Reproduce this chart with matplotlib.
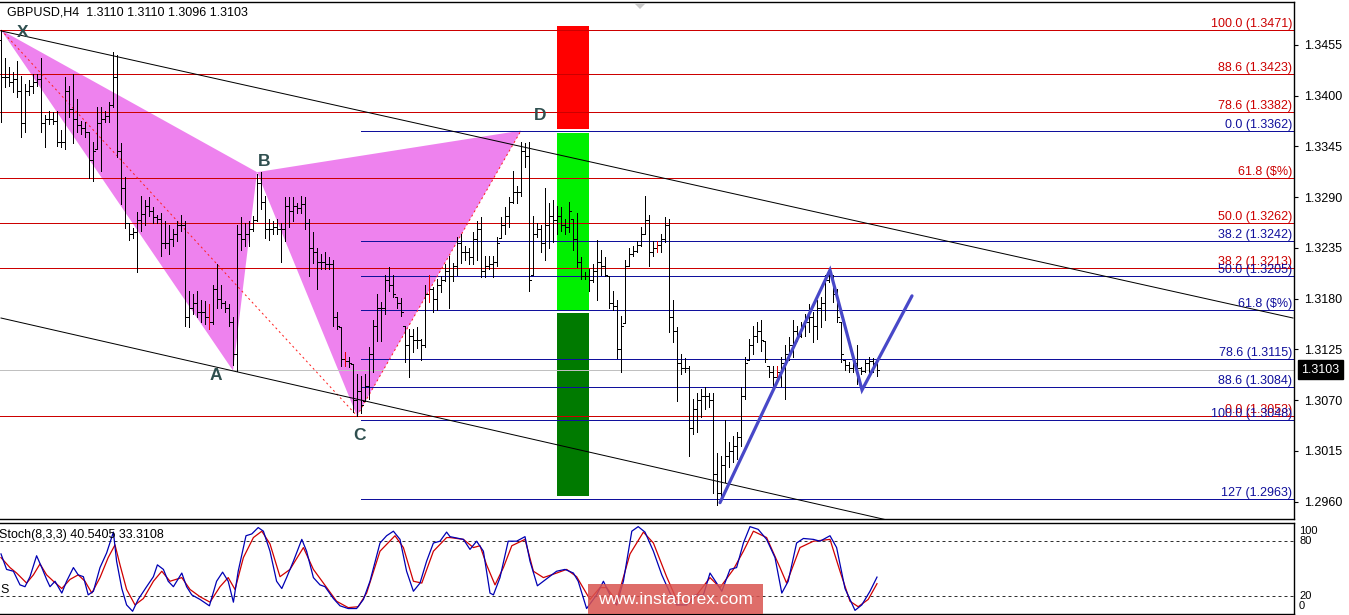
import numpy as np
import matplotlib
matplotlib.use("Agg")
import matplotlib.pyplot as plt
from matplotlib.patches import Polygon, Rectangle
from matplotlib import transforms

plt.rcParams['font.family'] = ['Liberation Sans', 'DejaVu Sans']

# ---------------- GBPUSD H4 bars ----------------
highs = [
    1.3471, 1.3441, 1.3431, 1.3425, 1.3437, 1.3421, 1.3412, 1.3417, 1.3423, 1.3423,
    1.3441, 1.3379, 1.3383, 1.3382, 1.3383, 1.3363, 1.3420, 1.3410, 1.3423, 1.3396,
    1.3372, 1.3371, 1.3361, 1.3350, 1.3388, 1.3388, 1.3383, 1.3393, 1.3447, 1.3444,
    1.3349, 1.3312, 1.3262, 1.3257, 1.3274, 1.3291, 1.3287, 1.3290, 1.3279, 1.3271,
    1.3273, 1.3264, 1.3260, 1.3255, 1.3264, 1.3271, 1.3264, 1.3188, 1.3185, 1.3188,
    1.3179, 1.3177, 1.3174, 1.3195, 1.3217, 1.3195, 1.3177, 1.3174, 1.3160, 1.3260,
    1.3268, 1.3262, 1.3264, 1.3269, 1.3315, 1.3317, 1.3291, 1.3266, 1.3264, 1.3266,
    1.3262, 1.3290, 1.3290, 1.3290, 1.3284, 1.3291, 1.3290, 1.3266, 1.3252, 1.3235,
    1.3228, 1.3230, 1.3225, 1.3222, 1.3166, 1.3149, 1.3122, 1.3117, 1.3109, 1.3098,
    1.3096, 1.3098, 1.3128, 1.3157, 1.3185, 1.3176, 1.3206, 1.3214, 1.3206, 1.3182,
    1.3181, 1.3150, 1.3147, 1.3147, 1.3149, 1.3136, 1.3195, 1.3206, 1.3193, 1.3201,
    1.3204, 1.3217, 1.3226, 1.3219, 1.3247, 1.3250, 1.3237, 1.3235, 1.3252, 1.3264,
    1.3268, 1.3226, 1.3226, 1.3226, 1.3247, 1.3268, 1.3279, 1.3290, 1.3318, 1.3302,
    1.3350, 1.3349, 1.3350, 1.3269, 1.3262, 1.3260, 1.3300, 1.3284, 1.3287, 1.3280,
    1.3279, 1.3266, 1.3285, 1.3266, 1.3273, 1.3225, 1.3209, 1.3212, 1.3217, 1.3244,
    1.3233, 1.3225, 1.3204, 1.3188, 1.3179, 1.3161, 1.3222, 1.3235, 1.3237, 1.3242,
    1.3258, 1.3291, 1.3271, 1.3242, 1.3242, 1.3250, 1.3268, 1.3266, 1.3179, 1.3149,
    1.3120, 1.3116, 1.3107, 1.3071, 1.3078, 1.3082, 1.3084, 1.3078, 1.3078, 1.3013,
    1.3009, 1.3049, 1.3025, 1.3031, 1.3036, 1.3084, 1.3117, 1.3136, 1.3150, 1.3155,
    1.3157, 1.3134, 1.3107, 1.3107, 1.3107, 1.3117, 1.3130, 1.3138, 1.3157, 1.3150,
    1.3155, 1.3163, 1.3174, 1.3165, 1.3179, 1.3182, 1.3206, 1.3211, 1.3206, 1.3190,
    1.3155, 1.3114, 1.3111, 1.3114, 1.3130, 1.3106, 1.3114, 1.3117, 1.3116, 1.3110,
]
lows = [
    1.3371, 1.3409, 1.3410, 1.3404, 1.3398, 1.3355, 1.3360, 1.3401, 1.3403, 1.3410,
    1.3361, 1.3344, 1.3369, 1.3369, 1.3345, 1.3344, 1.3342, 1.3377, 1.3349, 1.3360,
    1.3358, 1.3355, 1.3311, 1.3307, 1.3342, 1.3318, 1.3371, 1.3371, 1.3388, 1.3333,
    1.3282, 1.3257, 1.3244, 1.3246, 1.3209, 1.3253, 1.3260, 1.3269, 1.3262, 1.3262,
    1.3226, 1.3235, 1.3228, 1.3237, 1.3242, 1.3253, 1.3150, 1.3149, 1.3163, 1.3160,
    1.3155, 1.3152, 1.3147, 1.3152, 1.3170, 1.3170, 1.3166, 1.3150, 1.3108, 1.3102,
    1.3233, 1.3237, 1.3237, 1.3253, 1.3264, 1.3277, 1.3246, 1.3244, 1.3250, 1.3250,
    1.3220, 1.3242, 1.3258, 1.3264, 1.3273, 1.3273, 1.3255, 1.3204, 1.3219, 1.3190,
    1.3212, 1.3212, 1.3212, 1.3150, 1.3147, 1.3107, 1.3107, 1.3106, 1.3057, 1.3053,
    1.3056, 1.3069, 1.3071, 1.3100, 1.3134, 1.3134, 1.3163, 1.3188, 1.3182, 1.3170,
    1.3161, 1.3111, 1.3095, 1.3122, 1.3127, 1.3114, 1.3128, 1.3176, 1.3165, 1.3168,
    1.3187, 1.3199, 1.3170, 1.3199, 1.3206, 1.3219, 1.3222, 1.3217, 1.3217, 1.3222,
    1.3203, 1.3203, 1.3212, 1.3203, 1.3215, 1.3246, 1.3250, 1.3258, 1.3284, 1.3284,
    1.3291, 1.3323, 1.3188, 1.3206, 1.3247, 1.3231, 1.3222, 1.3235, 1.3241, 1.3250,
    1.3253, 1.3250, 1.3252, 1.3233, 1.3214, 1.3201, 1.3201, 1.3188, 1.3198, 1.3179,
    1.3206, 1.3204, 1.3170, 1.3168, 1.3116, 1.3101, 1.3154, 1.3215, 1.3226, 1.3231,
    1.3237, 1.3250, 1.3215, 1.3226, 1.3230, 1.3230, 1.3241, 1.3144, 1.3133, 1.3069,
    1.3098, 1.3101, 1.3009, 1.3033, 1.3035, 1.3052, 1.3060, 1.3063, 1.2970, 1.2957,
    1.2962, 1.2981, 1.2998, 1.3003, 1.3006, 1.3020, 1.3071, 1.3114, 1.3120, 1.3133,
    1.3123, 1.3111, 1.3095, 1.3082, 1.3090, 1.3085, 1.3071, 1.3114, 1.3117, 1.3134,
    1.3138, 1.3139, 1.3144, 1.3133, 1.3136, 1.3149, 1.3157, 1.3198, 1.3176, 1.3155,
    1.3111, 1.3103, 1.3100, 1.3100, 1.3087, 1.3098, 1.3100, 1.3098, 1.3100, 1.3096,
]
opens = [
    1.3460, 1.3420, 1.3420, 1.3415, 1.3418, 1.3405, 1.3370, 1.3405, 1.3410, 1.3415,
    1.3418, 1.3370, 1.3375, 1.3375, 1.3372, 1.3350, 1.3350, 1.3405, 1.3385, 1.3375,
    1.3368, 1.3365, 1.3360, 1.3330, 1.3342, 1.3370, 1.3375, 1.3378, 1.3390, 1.3420,
    1.3340, 1.3300, 1.3262, 1.3250, 1.3252, 1.3265, 1.3272, 1.3280, 1.3275, 1.3268,
    1.3266, 1.3240, 1.3240, 1.3245, 1.3250, 1.3260, 1.3260, 1.3160, 1.3170, 1.3175,
    1.3165, 1.3165, 1.3160, 1.3155, 1.3190, 1.3180, 1.3175, 1.3170, 1.3155, 1.3120,
    1.3250, 1.3245, 1.3250, 1.3255, 1.3265, 1.3305, 1.3285, 1.3255, 1.3255, 1.3258,
    1.3255, 1.3255, 1.3280, 1.3275, 1.3280, 1.3278, 1.3282, 1.3262, 1.3235, 1.3230,
    1.3220, 1.3220, 1.3218, 1.3218, 1.3160, 1.3149, 1.3115, 1.3112, 1.3109, 1.3070,
    1.3080, 1.3069, 1.3085, 1.3120, 1.3150, 1.3170, 1.3170, 1.3200, 1.3195, 1.3182,
    1.3175, 1.3150, 1.3130, 1.3140, 1.3135, 1.3135, 1.3130, 1.3185, 1.3190, 1.3180,
    1.3195, 1.3200, 1.3210, 1.3205, 1.3215, 1.3240, 1.3230, 1.3230, 1.3225, 1.3245,
    1.3255, 1.3210, 1.3215, 1.3218, 1.3220, 1.3246, 1.3260, 1.3270, 1.3285, 1.3295,
    1.3295, 1.3340, 1.3335, 1.3206, 1.3250, 1.3255, 1.3240, 1.3260, 1.3270, 1.3265,
    1.3270, 1.3260, 1.3258, 1.3266, 1.3245, 1.3220, 1.3205, 1.3205, 1.3200, 1.3210,
    1.3220, 1.3215, 1.3204, 1.3175, 1.3172, 1.3125, 1.3154, 1.3215, 1.3228, 1.3232,
    1.3238, 1.3250, 1.3265, 1.3230, 1.3235, 1.3238, 1.3245, 1.3260, 1.3160, 1.3145,
    1.3110, 1.3105, 1.3105, 1.3040, 1.3060, 1.3070, 1.3075, 1.3075, 1.3070, 1.2990,
    1.2970, 1.3000, 1.3010, 1.3015, 1.3020, 1.3030, 1.3075, 1.3114, 1.3130, 1.3140,
    1.3145, 1.3134, 1.3107, 1.3100, 1.3095, 1.3100, 1.3110, 1.3120, 1.3130, 1.3145,
    1.3140, 1.3150, 1.3155, 1.3160, 1.3150, 1.3170, 1.3175, 1.3200, 1.3205, 1.3185,
    1.3155, 1.3114, 1.3108, 1.3105, 1.3110, 1.3105, 1.3102, 1.3110, 1.3112, 1.3110,
]
closes = [
    1.3420, 1.3420, 1.3415, 1.3418, 1.3405, 1.3370, 1.3405, 1.3410, 1.3415, 1.3418,
    1.3370, 1.3375, 1.3375, 1.3372, 1.3350, 1.3350, 1.3405, 1.3385, 1.3375, 1.3368,
    1.3365, 1.3360, 1.3330, 1.3340, 1.3370, 1.3375, 1.3378, 1.3390, 1.3420, 1.3340,
    1.3300, 1.3262, 1.3250, 1.3252, 1.3265, 1.3272, 1.3280, 1.3275, 1.3268, 1.3266,
    1.3240, 1.3240, 1.3245, 1.3250, 1.3260, 1.3260, 1.3160, 1.3170, 1.3175, 1.3165,
    1.3165, 1.3160, 1.3155, 1.3190, 1.3180, 1.3175, 1.3170, 1.3155, 1.3120, 1.3250,
    1.3245, 1.3250, 1.3255, 1.3265, 1.3305, 1.3285, 1.3255, 1.3255, 1.3258, 1.3255,
    1.3255, 1.3280, 1.3275, 1.3280, 1.3278, 1.3282, 1.3262, 1.3235, 1.3230, 1.3220,
    1.3220, 1.3218, 1.3218, 1.3160, 1.3150, 1.3115, 1.3112, 1.3110, 1.3070, 1.3080,
    1.3065, 1.3085, 1.3120, 1.3150, 1.3170, 1.3170, 1.3200, 1.3195, 1.3185, 1.3175,
    1.3165, 1.3130, 1.3140, 1.3135, 1.3135, 1.3130, 1.3185, 1.3190, 1.3180, 1.3195,
    1.3200, 1.3210, 1.3205, 1.3215, 1.3240, 1.3230, 1.3230, 1.3225, 1.3245, 1.3255,
    1.3210, 1.3215, 1.3218, 1.3220, 1.3240, 1.3260, 1.3270, 1.3285, 1.3295, 1.3295,
    1.3340, 1.3335, 1.3200, 1.3250, 1.3255, 1.3240, 1.3260, 1.3270, 1.3265, 1.3270,
    1.3260, 1.3258, 1.3275, 1.3245, 1.3220, 1.3205, 1.3205, 1.3200, 1.3210, 1.3220,
    1.3215, 1.3206, 1.3175, 1.3172, 1.3125, 1.3150, 1.3215, 1.3228, 1.3232, 1.3238,
    1.3250, 1.3265, 1.3230, 1.3235, 1.3238, 1.3245, 1.3260, 1.3160, 1.3145, 1.3110,
    1.3105, 1.3105, 1.3040, 1.3060, 1.3070, 1.3075, 1.3075, 1.3070, 1.2990, 1.2970,
    1.3000, 1.3010, 1.3015, 1.3020, 1.3030, 1.3075, 1.3110, 1.3130, 1.3140, 1.3145,
    1.3135, 1.3115, 1.3100, 1.3095, 1.3100, 1.3110, 1.3120, 1.3130, 1.3145, 1.3140,
    1.3150, 1.3155, 1.3160, 1.3150, 1.3170, 1.3175, 1.3200, 1.3205, 1.3185, 1.3160,
    1.3120, 1.3108, 1.3105, 1.3110, 1.3105, 1.3102, 1.3110, 1.3112, 1.3110, 1.3103,
]
# bars flagged with the red arrow marker
flagged_bars = [52, 86, 107, 164, 194]
last_price = 1.3103

# ---------------- harmonic pattern XABCD (bar index, price) ----------------
pattern_names = ["X", "A", "B", "C", "D"]
pattern_bars = [0, 58, 64, 89, 130]
pattern_prices = [1.3471, 1.3102, 1.3317, 1.3053, 1.3362]

# ---------------- Fibonacci levels ----------------
xa_prices = [1.3471, 1.3423, 1.3382, 1.3311, 1.3262, 1.3213, 1.3053]
xa_labels = ["100.0 (1.3471)", "88.6 (1.3423)", "78.6 (1.3382)", "61.8 ($%)",
             "50.0 (1.3262)", "38.2 (1.3213)", "0.0 (1.3053)"]
cd_prices = [1.3362, 1.3242, 1.3205, 1.3168, 1.3115, 1.3084, 1.3048, 1.2963]
cd_labels = ["0.0 (1.3362)", "38.2 (1.3242)", "50.0 (1.3205)", "61.8 ($%)",
             "78.6 (1.3115)", "88.6 (1.3084)", "100.0 (1.3048)", "127 (1.2963)"]
cd_start_bar = 90

# ---------------- trend channel (bar, price) end points ----------------
upper_channel = ([0, 323], [1.3470, 1.3159])
lower_channel = ([0, 323], [1.3159, 1.2840])

# ---------------- zone column ----------------
zone_bar_left, zone_bar_width = 139, 8
zone_bounds = [(1.3364, 1.3475), (1.3168, 1.3359), (1.2966, 1.3164)]
zone_colors = ["#ff0000", "#00f000", "#007a00"]

# ---------------- projected swing path ----------------
proj_bars = [179.75, 207.25, 215.25, 227.75]
proj_prices = [1.2959, 1.3211, 1.3081, 1.3183]

# ---------------- Stochastic (8,3,3) ----------------
k_pos = [0, 1.4, 3.1, 4.75, 6, 7.25, 8.9, 10.2, 11.4, 12.25, 13.5, 15.2, 16.4, 18.1,
         19.3, 20.6, 21.8, 23.1, 24.75, 26.4, 28.1, 28.9, 30.2, 31.4, 32.9, 34.3, 36.4,
         38.1, 39.1, 40.6, 41.8, 43.1, 45.2, 46.4, 47.7, 49.75, 52.1, 53.9, 55.4, 56.8,
         58.1, 59.3, 61.25, 62.7, 64.3, 65.6, 67.25, 68.9, 70.2, 71.4, 73.1, 75.2, 76.4,
         78.1, 79.75, 81, 83.1, 84.75, 86.8, 88.9, 90.6, 92.25, 94.75, 96.4, 98.1, 99.75,
         101.4, 103.1, 104.75, 106.4, 108.1, 109.75, 111.4,
         112.25, 115.6, 117.25, 118.9, 120.6, 122.25, 123.1, 124.75, 126.8, 128.9, 131,
         132.25, 134.1, 135.6, 138.9, 141, 143.1, 144.3, 146.4, 148.9, 150.6, 152.25,
         153.9, 155.6, 157.7, 159.3, 161, 163.1, 165.2, 167.25, 168.9, 171.4, 173.5,
         175.6, 177.25, 178.9, 180.2, 182.25, 183.9, 185.6, 187.25, 189.3, 191.4, 193.5,
         195.2, 196.8, 198.9, 200.6, 203.1, 204.75, 207.25, 208.9, 211, 213.5, 215.2,
         217.25, 219]
k_vals = [66, 49, 47, 32, 30, 41, 64, 51, 38, 30, 36, 23, 36, 51, 43, 41, 21, 25, 51, 67,
          90, 58, 28, 10, 3, 16, 30, 41, 54, 49, 36, 30, 45, 30, 21, 16, 9, 36, 46, 36,
          13, 47, 86, 88, 95, 91, 69, 36, 28, 40, 58, 82, 69, 40, 32, 30, 17, 9, 6, 6,
          16, 36, 78, 86, 91, 82, 47, 25, 34, 58, 78, 80, 90,
          85, 82, 71, 80, 69, 23, 21, 40, 80, 80, 85, 58, 31, 36, 47, 49, 45, 36, 6, 21,
          36, 21, 10, 36, 91, 96, 90, 69, 43, 23, 10, 10, 21, 21, 45, 34, 25, 49, 51, 78,
          96, 93, 82, 62, 23, 36, 78, 83, 82, 80, 86, 73, 28, 4, 10, 25, 40.5405]
d_pos = [0, 2.25, 3.9, 6.4, 8.1, 9.75, 11.4, 13.1, 15.2, 17.25, 19.3, 21, 22.7, 24.75,
         26.8, 28.5, 29.75, 31.4, 33.5, 35.6, 38.1, 40.2, 42.25, 45.2, 47.25, 49.75,
         52.25, 54.75, 56.8, 58.5, 60.6, 63.1, 65.2, 67.25, 69.75, 72.25, 75.6, 78.1,
         80.6, 83.9, 86.8, 89.3, 91.4, 94.75, 98.5, 100.6, 103.1, 105.2, 108.1, 111.4,
         112.25, 115.6, 118.1, 119.75, 121.4, 123.5, 125.6, 127.7, 131, 133.1, 135.6,
         138.9, 141.4, 143.9, 147.25, 149.75, 151.4, 153.9, 157.25, 160.6, 163.1, 166.4,
         168.9, 172.25, 174.3, 177.25, 179.75, 183.1, 185.6, 188.1, 191.4, 194.75,
         196.4, 199.75, 203.1, 207.25, 209.75, 212.25, 214.3, 216.8, 219]
d_vals = [62, 51, 45, 34, 43, 55, 43, 36, 28, 38, 43, 36, 23, 40, 62, 76, 54, 27, 10, 17,
          36, 47, 36, 40, 27, 19, 13, 30, 40, 27, 62, 84, 91, 77, 41, 49, 73, 49, 34, 14,
          7, 8, 23, 69, 86, 73, 36, 34, 69, 84,
          84, 82, 73, 75, 54, 32, 51, 75, 82, 47, 40, 45, 49, 41, 16, 29, 29, 14, 66, 90,
          78, 41, 16, 12, 23, 40, 29, 49, 69, 91, 84, 51, 34, 73, 80, 82, 47, 14, 8, 16,
          33.3108]
stoch_levels = [80, 20]
stoch_axis_labels = [("100", 91), ("80", 80), ("20", 20), ("0", 9)]

price_ticks = [1.3455, 1.3400, 1.3345, 1.3290, 1.3235, 1.3180, 1.3125, 1.3070, 1.3015, 1.2960]

# ---------------- figure layout (pixel based) ----------------
W, H = 1349, 615
fig = plt.figure(figsize=(W / 100, H / 100), dpi=100)
fig.patch.set_facecolor("white")
PX = 0.72  # one pixel expressed in points


def fbox(left, top, right, bottom):
    return [left / W, 1 - bottom / H, (right - left) / W, (bottom - top) / H]


ax = fig.add_axes(fbox(0, 2, 1294, 519))
axs = fig.add_axes(fbox(0, 523, 1294, 614))

x_lim = (-0.25, 323.25)
ax.set_xlim(*x_lim)
ax.set_ylim(1.29413, 1.35013)
axs.set_xlim(*x_lim)
axs.set_ylim(0, 100)

for a in (ax, axs):
    a.set_facecolor("white")
    a.set_xticks([])
    for side in ("top", "bottom", "right"):
        a.spines[side].set_linewidth(1.0)
        a.spines[side].set_color("black")
    a.spines["left"].set_visible(False)

RED = "#cc0000"
NAVY = "#10109c"

# zone column
for (lo, hi), col in zip(zone_bounds, zone_colors):
    ax.add_patch(Rectangle((zone_bar_left, lo), zone_bar_width, hi - lo,
                           facecolor=col, edgecolor="none", zorder=1.5))

# harmonic pattern triangles
pts = list(zip(pattern_bars, pattern_prices))
ax.add_patch(Polygon([pts[0], pts[1], pts[2]], closed=True, facecolor="#ee82ee",
                     edgecolor="none", zorder=1))
ax.add_patch(Polygon([pts[2], pts[3], pts[4]], closed=True, facecolor="#ee82ee",
                     edgecolor="none", zorder=1))
ax.plot([pattern_bars[0], pattern_bars[3]], [pattern_prices[0], pattern_prices[3]],
        color="#ff2020", lw=PX, dashes=(2, 3), zorder=2.2)
ax.plot([pattern_bars[3], pattern_bars[4]], [pattern_prices[3], pattern_prices[4]],
        color="#ff2020", lw=PX, dashes=(2, 3), zorder=2.2)

# current price line
ax.axhline(last_price, color="#c0c0c0", lw=PX, zorder=1.8)

# Fibonacci lines and labels
label_tr = transforms.blended_transform_factory(ax.transAxes, ax.transData)
for p, lab in zip(xa_prices, xa_labels):
    ax.hlines(p, x_lim[0], x_lim[1], color=RED, lw=PX, zorder=2, antialiased=False)
    ax.annotate(lab, xy=(1292 / 1294, p), xycoords=label_tr, xytext=(0, 3),
                textcoords="offset pixels", ha="right", va="baseline", color=RED,
                fontsize=9, zorder=5, parse_math=False)
for p, lab in zip(cd_prices, cd_labels):
    ax.hlines(p, cd_start_bar, x_lim[1], color=NAVY, lw=PX, zorder=2.1, antialiased=False)
    ax.annotate(lab, xy=(1292 / 1294, p), xycoords=label_tr, xytext=(0, 3),
                textcoords="offset pixels", ha="right", va="baseline", color=NAVY,
                fontsize=9, zorder=5.1, parse_math=False)

# trend channel
ax.plot(*upper_channel, color="black", lw=PX, zorder=2.5)
ax.plot(*lower_channel, color="black", lw=PX, zorder=2.5)

# OHLC bars
xb = np.arange(len(highs))
hi = np.array(highs)
lo = np.array(lows)
op = np.array(opens)
cl = np.array(closes)
ax.vlines(xb, lo, hi, color="black", lw=PX, zorder=3, antialiased=False)
ax.hlines(op, xb - 0.4, xb, color="black", lw=PX, zorder=3, antialiased=False)
ax.hlines(cl, xb, xb + 0.4, color="black", lw=PX, zorder=3, antialiased=False)
fb = np.array(flagged_bars)
ax.vlines(fb, lo[fb], hi[fb], color="#e00000", lw=PX, zorder=3.1, antialiased=False)

# projected swing path
ax.plot(proj_bars, proj_prices, color="#4848c8", lw=2.3, zorder=4,
        solid_capstyle="round", solid_joinstyle="miter")

# pattern point labels
label_offsets = [(22, -3), (-17, -5), (7, 11), (2, -20), (19, 15)]
for name, b, p, off in zip(pattern_names, pattern_bars, pattern_prices, label_offsets):
    ax.annotate(name, xy=(b, p), xytext=off, textcoords="offset pixels",
                ha="center", va="center", fontsize=12.5, fontweight="bold",
                color="#2f4f4f", zorder=6)

# right price axis
ax.yaxis.tick_right()
ax.set_yticks(price_ticks)
ax.set_yticklabels([f"{t:.4f}" for t in price_ticks])
ax.tick_params(axis="y", direction="out", length=3, width=0.8, pad=4,
               labelsize=9, colors="black")
axs.set_yticks([])

# current price tag
ax.text(1301 / 1294, last_price, f"{last_price:.4f}", transform=label_tr,
        ha="left", va="center", fontsize=9, color="white", clip_on=False, zorder=7,
        bbox=dict(boxstyle="square,pad=0.28", facecolor="black", edgecolor="black"))

# chart header
fig.text(7 / W, 1 - 12.5 / H, "GBPUSD,H4  1.3110 1.3110 1.3096 1.3103",
         ha="left", va="center", fontsize=9, color="black")
fig.patches.append(Polygon([(634 / W, 1 - 3 / H), (646 / W, 1 - 3 / H), (640 / W, 1 - 9 / H)],
                           closed=True, transform=fig.transFigure,
                           facecolor="#c8c8c8", edgecolor="none"))

# stochastic panel
for lv in stoch_levels:
    axs.axhline(lv, color="#303030", lw=PX, dashes=(3, 3), zorder=1)
axs.plot(d_pos, d_vals, color="#d00000", lw=0.9, zorder=2)
axs.plot(k_pos, k_vals, color="#0000b4", lw=0.9, zorder=3)
for txt, v in stoch_axis_labels:
    axs.text(1299 / 1294, v, txt, transform=transforms.blended_transform_factory(
        axs.transAxes, axs.transData), ha="left", va="center", fontsize=8,
        color="black", clip_on=False)
fig.text(-1 / W, 1 - 535 / H, "Stoch(8,3,3) 40.5405 33.3108", ha="left", va="center",
         fontsize=9, color="black")
fig.text(0 / W, 1 - 590 / H, "S", ha="left", va="center", fontsize=9, color="black")

# watermark
fig.patches.append(Rectangle((588 / W, 1 - 614 / H), 175 / W, 30 / H,
                             transform=fig.transFigure, facecolor="#d9534f",
                             edgecolor="none", alpha=0.85, zorder=10))
fig.text(675 / W, 1 - 599 / H, "www.instaforex.com", ha="center", va="center",
         fontsize=12.5, color="white", zorder=11)

fig.savefig("out.png", dpi=100, facecolor="white")
